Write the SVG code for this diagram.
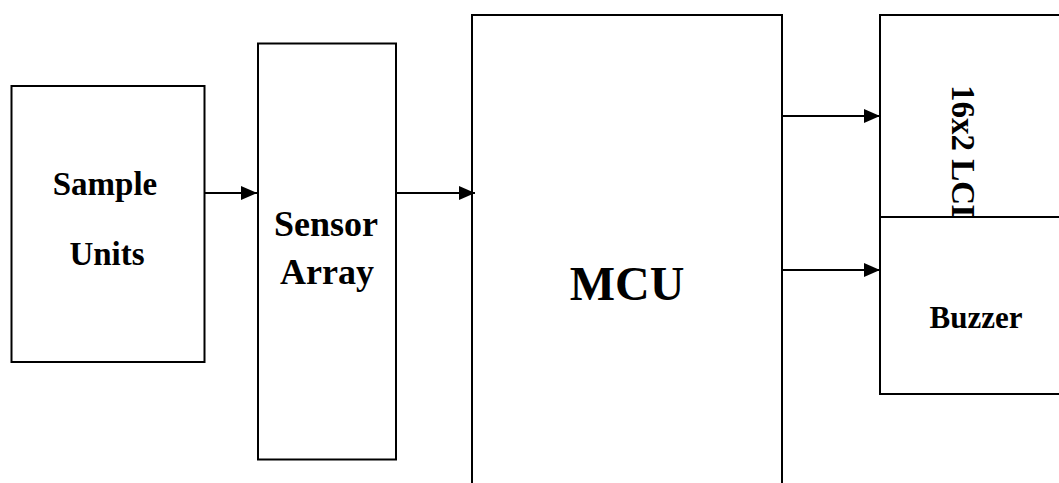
<svg xmlns="http://www.w3.org/2000/svg" width="1059" height="483" viewBox="0 0 1059 483">
<style>
.box{fill:#fff;stroke:#000;stroke-width:2}
.t{font-family:"Liberation Serif","Times New Roman",serif;font-weight:bold;fill:#000;text-anchor:middle}
.c{stroke:#000;stroke-width:2;fill:none}
</style>
<defs>
<marker id="ah" viewBox="0 0 16 14" refX="16" refY="7" markerWidth="16" markerHeight="14" markerUnits="userSpaceOnUse" orient="auto">
<path d="M0,0 L16,7 L0,14 Z" fill="#000"/>
</marker>
</defs>
<rect width="1059" height="483" fill="#fff"/>
<g id="sample-units">
<rect class="box" x="11.5" y="86" width="193" height="276"/>
<text class="t" x="105" y="195" font-size="33">Sample</text>
<text class="t" x="107" y="265" font-size="33">Units</text>
</g>
<g id="sensor-array">
<rect class="box" x="258" y="43.5" width="138" height="416"/>
<text class="t" x="326" y="236" font-size="36">Sensor</text>
<text class="t" x="327" y="284" font-size="36">Array</text>
</g>
<g id="mcu">
<rect class="box" x="472" y="15" width="310" height="480"/>
<text class="t" x="627" y="300" font-size="48">MCU</text>
</g>
<g id="lcd">
<rect class="box" x="880" y="15" width="190" height="202"/>
<text class="t" style="text-anchor:start" transform="translate(952,85) rotate(90)" font-size="33">16x2 LCD</text>
</g>
<g id="buzzer">
<rect class="box" x="880" y="217" width="190" height="177"/>
<text class="t" x="976" y="328" font-size="31">Buzzer</text>
</g>
<g id="connectors">
<line class="c" x1="204" y1="193" x2="257" y2="193" marker-end="url(#ah)"/>
<line class="c" x1="396" y1="193" x2="475" y2="193" marker-end="url(#ah)"/>
<line class="c" x1="782" y1="116" x2="880" y2="116" marker-end="url(#ah)"/>
<line class="c" x1="782" y1="270" x2="880" y2="270" marker-end="url(#ah)"/>
</g>
</svg>
